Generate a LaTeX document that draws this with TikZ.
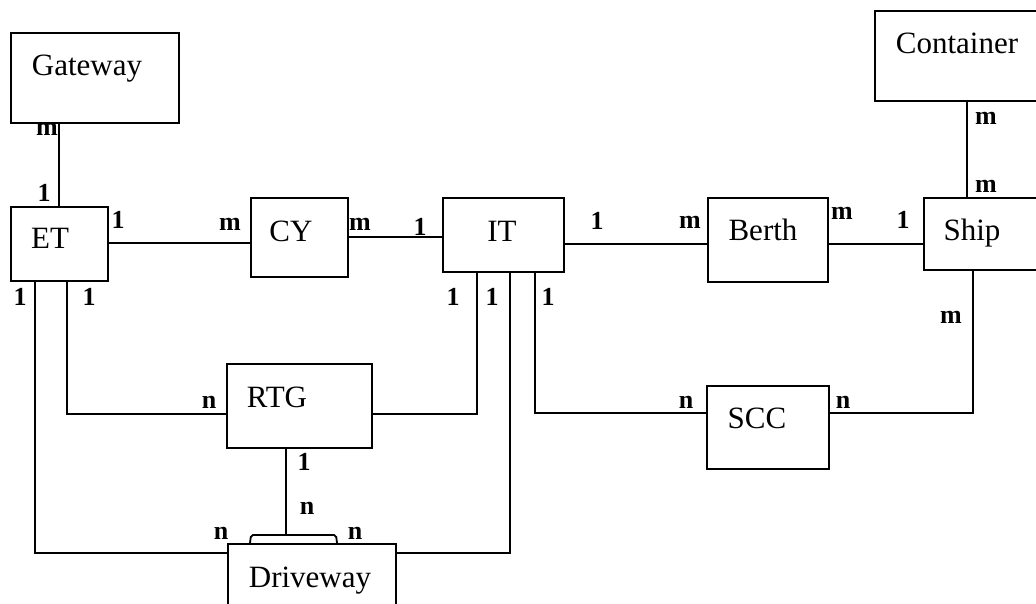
\documentclass[tikz,border=0pt]{standalone}
\usepackage{fontspec}
\setmainfont{Liberation Serif}
\begin{document}
\begin{tikzpicture}[x=1pt,y=-1pt,
  ent/.style={draw,line width=1.8pt,rectangle,inner sep=0pt,anchor=north west},
  lnk/.style={line width=1.8pt},
  txt/.style={anchor=base,inner sep=0pt,font=\fontsize{31}{36}\selectfont},
  lab/.style={anchor=center,inner sep=0pt,font=\fontsize{26}{30}\selectfont\bfseries}]
\useasboundingbox (0,0) rectangle (1036,603);
\clip (0,0) rectangle (1036,603);
% entity boxes
\node[ent,minimum width=168pt,minimum height=90pt] (gw) at (10,32) {};
\node[ent,minimum width=97pt,minimum height=74pt] (et) at (10,206) {};
\node[ent,minimum width=97pt,minimum height=79pt] (cy) at (250,197) {};
\node[ent,minimum width=121pt,minimum height=74pt] (it) at (442,197) {};
\node[ent,minimum width=120pt,minimum height=84pt] (be) at (707,197) {};
\node[ent,minimum width=180pt,minimum height=90pt] (co) at (874,10) {};
\node[ent,minimum width=130pt,minimum height=72pt] (sh) at (923,197) {};
\node[ent,minimum width=145pt,minimum height=84pt] (rtg) at (226,363) {};
\node[ent,minimum width=122pt,minimum height=83pt] (scc) at (706,385) {};
\node[ent,minimum width=168pt,minimum height=80pt] (dw) at (227,543) {};
% texts
\node[txt] (tgw) at (87,75) {Gateway};
\node[txt] (tet) at (50,248) {ET};
\node[txt] (tcy) at (291,241) {CY};
\node[txt] (tit) at (502,241) {IT};
\node[txt] (tbe) at (763,240) {Berth};
\node[txt] (tco) at (957,53) {Container};
\node[txt] (tsh) at (972,240) {Ship};
\node[txt] (trtg) at (277,407) {RTG};
\node[txt] (tscc) at (757,428) {SCC};
\node[txt] (tdw) at (310,587) {Driveway};
% bracket on driveway
\coordinate (brl) at (250,543);
\coordinate (brr) at (337,543);
\draw[lnk,rounded corners=2pt] (brl) -- (251,535) -- (336,535) -- (brr);
\coordinate (brt) at (286,535);
% connectors
\draw[lnk] (gw.south -| 59,0) -- (et.north -| 59,0);
\draw[lnk] (et.east |- 0,243) -- (cy.west |- 0,243);
\draw[lnk] (cy.east |- 0,237) -- (it.west |- 0,237);
\draw[lnk] (it.east |- 0,244) -- (be.west |- 0,244);
\draw[lnk] (be.east |- 0,244) -- (sh.west |- 0,244);
\draw[lnk] (co.south -| 967,0) -- (sh.north -| 967,0);
\draw[lnk] (et.south -| 67,0) -- (67,414) -- (rtg.west |- 0,414);
\draw[lnk] (rtg.east |- 0,414) -- (477,414) -- (it.south -| 477,0);
\draw[lnk] (et.south -| 35,0) -- (35,553) -- (dw.west |- 0,553);
\draw[lnk] (dw.east |- 0,553) -- (510,553) -- (it.south -| 510,0);
\draw[lnk] (rtg.south -| 286,0) -- (brt);
\draw[lnk] (it.south -| 535,0) -- (535,413) -- (scc.west |- 0,413);
\draw[lnk] (sh.south -| 973,0) -- (973,413) -- (scc.east |- 0,413);
% cardinality labels
\node[lab] (c1) at (47,129) {m};
\node[lab] (c2) at (44,193) {1};
\node[lab] (c3) at (118,220) {1};
\node[lab] (c4) at (230,224) {m};
\node[lab] (c5) at (360,224) {m};
\node[lab] (c6) at (420,227) {1};
\node[lab] (c7) at (597,221) {1};
\node[lab] (c8) at (690,222) {m};
\node[lab] (c9) at (842,213) {m};
\node[lab] (c10) at (903,220) {1};
\node[lab] (c11) at (986,118) {m};
\node[lab] (c12) at (986,186) {m};
\node[lab] (c13) at (20,297) {1};
\node[lab] (c14) at (89,297) {1};
\node[lab] (c15) at (453,297) {1};
\node[lab] (c16) at (492,297) {1};
\node[lab] (c17) at (548,297) {1};
\node[lab] (c18) at (209,402) {n};
\node[lab] (c19) at (304,462) {1};
\node[lab] (c20) at (307,508) {n};
\node[lab] (c21) at (221,533) {n};
\node[lab] (c22) at (355,533) {n};
\node[lab] (c23) at (686,402) {n};
\node[lab] (c24) at (843,402) {n};
\node[lab] (c25) at (951,317) {m};
\end{tikzpicture}
\end{document}
